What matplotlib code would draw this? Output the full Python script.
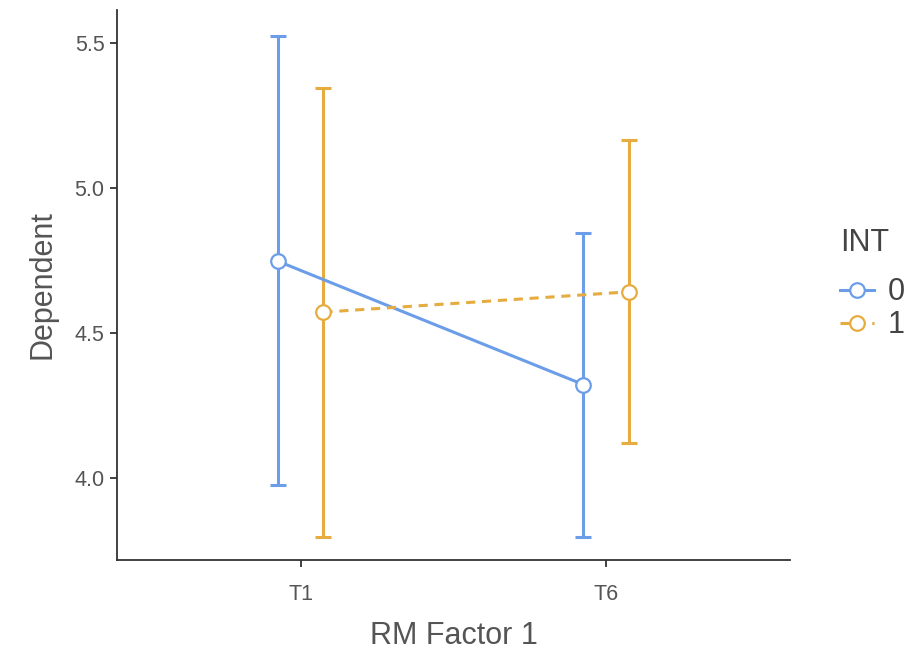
import matplotlib
matplotlib.use("Agg")
import matplotlib.pyplot as plt
from matplotlib.lines import Line2D
import numpy as np

plt.rcParams['font.family'] = ['Liberation Sans', 'DejaVu Sans']

categories = ["T1", "T6"]
groups = ["0", "1"]
means = {"0": [4.748, 4.322], "1": [4.572, 4.642]}
upper = {"0": [5.524, 4.845], "1": [5.345, 5.166]}
lower = {"0": [3.976, 3.797], "1": [3.797, 4.121]}
colors = {"0": "#6B9DE8", "1": "#E6AC40"}
styles = {"0": "-", "1": (0, (3, 2.2))}
offsets = {"0": -0.075, "1": 0.075}

fig = plt.figure(figsize=(9.09, 6.53), dpi=100)
ax = fig.add_axes([0.1287, 0.1424, 0.869 - 0.1287, 0.9847 - 0.1424])

x = np.arange(len(categories))
for g in groups:
    xs = x + offsets[g]
    m = np.array(means[g])
    lo = m - np.array(lower[g])
    hi = np.array(upper[g]) - m
    ax.errorbar(xs, m, yerr=[lo, hi], fmt='none', ecolor=colors[g],
                elinewidth=2.2, capsize=5.5, capthick=2.2, zorder=2)
    ax.plot(xs, m, linestyle=styles[g], color=colors[g], linewidth=2.2, zorder=3)
    ax.plot(xs, m, linestyle='none', marker='o', markersize=10.5,
            markerfacecolor='white', markeredgecolor=colors[g],
            markeredgewidth=1.6, zorder=4)

ax.set_xlim(-0.6, 1.6)
ax.set_ylim(3.717, 5.614)
ax.set_xticks(x)
ax.set_xticklabels(categories)
ax.set_yticks([4.0, 4.5, 5.0, 5.5])
ax.set_yticklabels(["4.0", "4.5", "5.0", "5.5"])

for s in ['top', 'right']:
    ax.spines[s].set_visible(False)
for s in ['left', 'bottom']:
    ax.spines[s].set_color('#333333')
    ax.spines[s].set_linewidth(1.3)

ax.tick_params(axis='both', direction='out', length=5, width=1.3,
               color='#333333', labelsize=15.5, labelcolor='#555555')
ax.tick_params(axis='x', pad=12)
ax.tick_params(axis='y', pad=4)

ax.set_xlabel("RM Factor 1", fontsize=22, color='#555555', labelpad=12)
ax.set_ylabel("Dependent", fontsize=22, color='#555555', labelpad=12)

handles = [
    Line2D([], [], color=colors[g], linestyle=styles[g], linewidth=2.2,
           marker='o', markersize=10.5, markerfacecolor='white',
           markeredgecolor=colors[g], markeredgewidth=1.6)
    for g in groups
]
leg = fig.legend(handles, groups, title="INT", loc='center left',
                 bbox_to_anchor=(0.924, 0.565), frameon=False, borderpad=0,
                 fontsize=22, title_fontsize=22, handlelength=1.1,
                 handletextpad=0.45, labelspacing=0.1, borderaxespad=0)
for t in leg.get_texts():
    t.set_color('#444444')
leg.get_title().set_color('#444444')
leg._legend_box.align = "left"
leg._legend_box.sep = 14

fig.savefig("out.png", dpi=100)
